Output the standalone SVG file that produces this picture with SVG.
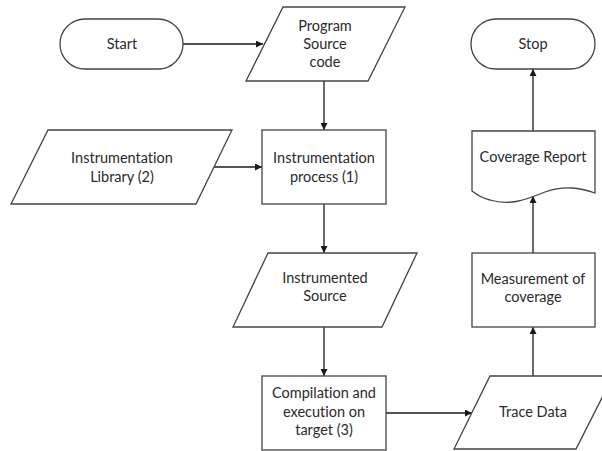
<svg xmlns="http://www.w3.org/2000/svg" width="602" height="451" viewBox="0 0 602 451">
<defs>
<marker id="arr" viewBox="0 0 10 10" refX="10" refY="5" markerWidth="7" markerHeight="7" markerUnits="userSpaceOnUse" orient="auto">
<path d="M0,0 L10,5 L0,10 Z" fill="#1a1a1a"/>
</marker>
<style>
.s{fill:#fff;stroke:#444;stroke-width:1.3}
.t{font-family:Lato,"Open Sans",sans-serif;font-size:14.5px;fill:#2a2a2a;text-anchor:middle;font-variant-ligatures:none;font-feature-settings:"liga" 0,"dlig" 0}
.c{fill:none;stroke:#1a1a1a;stroke-width:1.3;marker-end:url(#arr)}
</style>
</defs>
<rect width="602" height="451" fill="#fff"/>
<g id="connectors">
<path class="c" d="M183,44 H263"/>
<path class="c" d="M324,81 V130"/>
<path class="c" d="M214,167 H262"/>
<path class="c" d="M324,204 V253"/>
<path class="c" d="M324,327 V376"/>
<path class="c" d="M386,413 H472"/>
<path class="c" d="M533,376 V327"/>
<path class="c" d="M533,253 V196"/>
<path class="c" d="M533,131 V69"/>
</g>
<g id="start">
<rect class="s" x="60" y="19" width="123" height="50" rx="25"/>
<text class="t" x="122" y="49">Start</text>
</g>
<g id="program-source">
<polygon class="s" points="283,7 405,7 368,81 246,81"/>
<text class="t" x="325" y="31">Program</text>
<text class="t" x="325" y="49">Source</text>
<text class="t" x="325" y="67">code</text>
</g>
<g id="instr-library">
<polygon class="s" points="48,130 232,130 196,204 11,204"/>
<text class="t" x="122" y="163">Instrumentation</text>
<text class="t" x="122" y="182">Library (2)</text>
</g>
<g id="instr-process">
<rect class="s" x="262" y="130" width="124" height="74"/>
<text class="t" x="324" y="163">Instrumentation</text>
<text class="t" x="324" y="182">process (1)</text>
</g>
<g id="instrumented-source">
<polygon class="s" points="268,253 417,253 382,327 233,327"/>
<text class="t" x="325" y="283">Instrumented</text>
<text class="t" x="325" y="301">Source</text>
</g>
<g id="compilation">
<rect class="s" x="262" y="376" width="124" height="74"/>
<text class="t" x="324" y="398">Compilation and</text>
<text class="t" x="324" y="417">execution on</text>
<text class="t" x="324" y="435">target (3)</text>
</g>
<g id="trace-data">
<polygon class="s" points="490,376 613,376 576,449 454,449"/>
<text class="t" x="533" y="417">Trace Data</text>
</g>
<g id="measurement">
<rect class="s" x="472" y="253" width="123" height="74"/>
<text class="t" x="533" y="284">Measurement of</text>
<text class="t" x="533" y="302">coverage</text>
</g>
<g id="coverage-report">
<path class="s" d="M472,131 H595 V193 C580,188 565,185 545,192 C525,200 510,206 490,200 C482,198 477,195 472,191 Z"/>
<text class="t" x="533" y="162">Coverage Report</text>
</g>
<g id="stop">
<rect class="s" x="471" y="19" width="124" height="50" rx="25"/>
<text class="t" x="533" y="49">Stop</text>
</g>
</svg>
